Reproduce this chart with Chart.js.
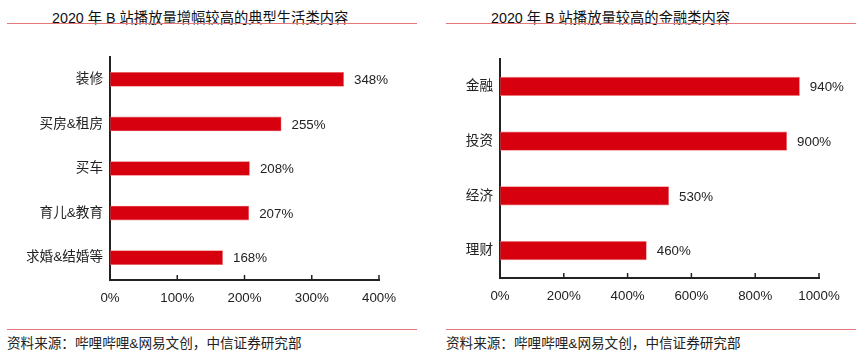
<!DOCTYPE html>
<html>
<head>
<meta charset="utf-8">
<script src="https://cdn.jsdelivr.net/npm/chart.js@4/dist/chart.umd.min.js"></script>
<style>
  html, body { margin: 0; padding: 0; background: #fff; }
  body { width: 864px; height: 358px; position: relative; overflow: hidden;
         font-family: "Liberation Sans", "Noto Sans CJK SC", sans-serif; }
  .cv { position: absolute; top: 0; }
  .title { position: absolute; top: 6px; font-size: 14.3px; color: #111; white-space: nowrap;
           font-family: "Liberation Sans", "Noto Sans CJK SC", sans-serif; }
  .rule { position: absolute; height: 1px; background: rgb(228,120,120); }
  .src { position: absolute; top: 332px; font-size: 13.6px; color: #222; white-space: nowrap;
         font-family: "Liberation Sans", "Noto Sans CJK SC", sans-serif; }
</style>
</head>
<body>
<div class="title" style="left:52px;">2020 年 B 站播放量增幅较高的典型生活类内容</div>
<div class="rule" style="left:7px; width:410px; top:23px;"></div>
<div class="title" style="left:491px;">2020 年 B 站播放量较高的金融类内容</div>
<div class="rule" style="left:446px; width:410px; top:23px;"></div>

<div class="rule" style="left:7px; width:410px; top:329px;"></div>
<div class="rule" style="left:446px; width:410px; top:329px;"></div>
<div class="src" style="left:7px;">资料来源：哔哩哔哩&amp;网易文创，中信证券研究部</div>
<div class="src" style="left:446px;">资料来源：哔哩哔哩&amp;网易文创，中信证券研究部</div>

<canvas id="c1" class="cv" style="left:0px;" width="432" height="358"></canvas>
<canvas id="c2" class="cv" style="left:432px;" width="432" height="358"></canvas>

<script>
// ---- data ----
const lifeCategories = ["装修", "买房&租房", "买车", "育儿&教育", "求婚&结婚等"];
const lifeValues = [348, 255, 208, 207, 168];
const lifeTicks = [0, 100, 200, 300, 400];

const financeCategories = ["金融", "投资", "经济", "理财"];
const financeValues = [940, 900, 530, 460];
const financeTicks = [0, 200, 400, 600, 800, 1000];

const FONT = '"Liberation Sans", "Noto Sans CJK SC", sans-serif';
const BAR_RED = '#D7000F';

const valueLabelPlugin = {
  id: 'valueLabels',
  afterDatasetsDraw(chart) {
    const ctx = chart.ctx;
    const meta = chart.getDatasetMeta(0);
    const data = chart.data.datasets[0].data;
    ctx.save();
    ctx.font = '13.3px ' + FONT;
    ctx.fillStyle = '#222';
    ctx.textAlign = 'left';
    ctx.textBaseline = 'middle';
    meta.data.forEach((bar, i) => {
      ctx.fillText(data[i] + '%', bar.x + 10, bar.y + 1);
    });
    ctx.restore();
  }
};

const innerTicksPlugin = {
  id: 'innerTicks',
  afterDraw(chart) {
    const ctx = chart.ctx;
    const xs = chart.scales.x;
    const area = chart.chartArea;
    ctx.save();
    ctx.strokeStyle = '#222';
    ctx.lineWidth = 1.5;
    xs.ticks.forEach((t, i) => {
      const px = xs.getPixelForTick(i);
      ctx.beginPath();
      ctx.moveTo(px, area.bottom);
      ctx.lineTo(px, area.bottom - 5);
      ctx.stroke();
    });
    ctx.restore();
  }
};

function makeChart(id, cats, vals, ticks, cfg) {
  return new Chart(document.getElementById(id), {
    type: 'bar',
    data: {
      labels: cats,
      datasets: [{
        data: vals,
        backgroundColor: BAR_RED,
        borderColor: 'rgba(240,110,110,0.9)',
        borderWidth: 0.6,
        borderSkipped: false,
        categoryPercentage: 1,
        barPercentage: cfg.barPct
      }]
    },
    options: {
      indexAxis: 'y',
      responsive: false,
      animation: false,
      devicePixelRatio: 1,
      layout: { padding: { left: 0, top: cfg.top, right: cfg.right, bottom: cfg.bottom } },
      plugins: { legend: { display: false }, tooltip: { enabled: false }, title: { display: false } },
      scales: {
        x: {
          min: ticks[0], max: ticks[ticks.length - 1],
          afterBuildTicks(scale) { scale.ticks = ticks.map(v => ({ value: v })); },
          grid: { display: false, drawTicks: false },
          border: { display: true, color: '#222', width: 2 },
          ticks: {
            padding: 10,
            color: '#222',
            font: { size: 13.3, family: FONT },
            callback: v => v + '%'
          },
          afterFit(scale) { scale.height = 30; }
        },
        y: {
          grid: { display: false, drawTicks: false },
          border: { display: true, color: '#222', width: 2 },
          ticks: { padding: 7, color: '#222', font: { size: 13.6, family: FONT } },
          afterFit(scale) { scale.width = cfg.yWidth; }
        }
      }
    },
    plugins: [valueLabelPlugin, innerTicksPlugin]
  });
}

makeChart('c1', lifeCategories, lifeValues, lifeTicks,
  { top: 57, right: 53, bottom: 358 - 280 - 30, yWidth: 110, barPct: 0.33 });
makeChart('c2', financeCategories, financeValues, financeTicks,
  { top: 59, right: 45, bottom: 358 - 278 - 30, yWidth: 68, barPct: 0.35 });
</script>
</body>
</html>
